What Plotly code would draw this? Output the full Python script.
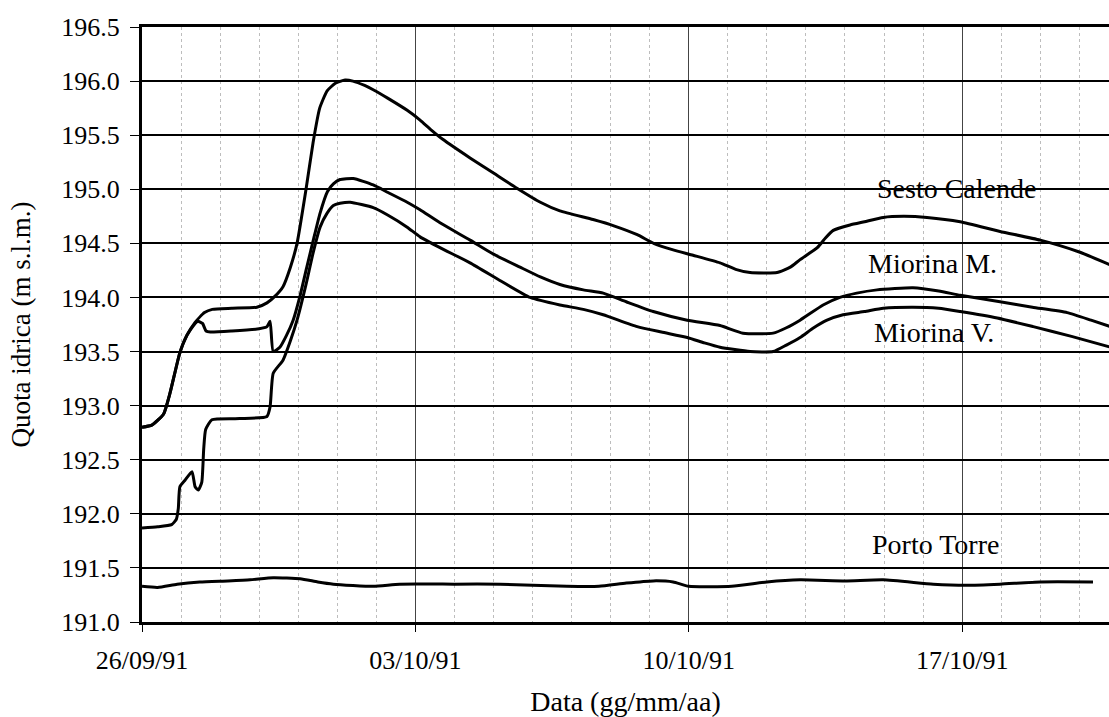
import pandas as pd
import plotly.graph_objects as go

# Water levels (m s.l.m.) versus elapsed days from 26/09/1991 00:00
START = "1991-09-26"

sesto_days = [0.0, 0.25, 0.55, 0.72, 0.97, 1.15, 1.36, 1.6, 1.8, 2.3, 2.94, 3.2, 3.4,
              3.61, 3.8, 3.97, 4.2, 4.38, 4.55, 4.74, 4.95, 5.2, 5.4, 5.7, 5.92, 6.3,
              6.79, 7.12, 7.4, 7.71, 8.4, 9.0, 9.6, 10.2, 10.7, 11.55, 12.1, 12.68,
              13.1, 13.6, 14.11, 14.8, 15.2, 15.57, 16.26, 16.6, 16.85, 17.29, 17.5,
              17.7, 18.13, 18.5, 18.98, 19.5, 20.1, 20.95, 21.97, 23.0, 24.0, 24.8]
sesto_level = [192.80, 192.82, 192.92, 193.12, 193.49, 193.65, 193.77, 193.86, 193.89,
               193.90, 193.91, 193.95, 194.01, 194.10, 194.28, 194.50, 195.00, 195.43,
               195.75, 195.91, 195.98, 196.01, 196.00, 195.96, 195.92, 195.84, 195.73,
               195.64, 195.55, 195.46, 195.29, 195.15, 195.01, 194.88, 194.80, 194.72,
               194.66, 194.58, 194.50, 194.44, 194.39, 194.32, 194.26, 194.23, 194.23,
               194.28, 194.35, 194.46, 194.55, 194.62, 194.67, 194.70, 194.74, 194.75,
               194.74, 194.70, 194.61, 194.53, 194.42, 194.30]

miorina_m_days = [0.0, 0.25, 0.55, 0.72, 0.97, 1.15, 1.36, 1.43, 1.55, 1.64, 1.75, 2.3,
                  3.0, 3.2, 3.28, 3.36, 3.53, 3.7, 3.87, 4.05, 4.22, 4.4, 4.56, 4.75,
                  4.9, 5.07, 5.41, 5.92, 6.3, 6.79, 7.12, 7.63, 8.4, 9.0, 9.68, 10.2,
                  10.7, 11.3, 11.81, 12.4, 13.09, 13.96, 14.8, 15.39, 16.16, 16.5, 16.85,
                  17.44, 17.87, 18.3, 18.82, 19.74, 20.4, 20.95, 21.97, 22.8, 23.69,
                  24.3, 24.8]
miorina_m_level = [192.80, 192.82, 192.92, 193.12, 193.49, 193.65, 193.76, 193.78, 193.76,
                   193.69, 193.68, 193.69, 193.71, 193.73, 193.78, 193.50, 193.54, 193.65,
                   193.79, 194.02, 194.28, 194.55, 194.78, 194.98, 195.05, 195.09, 195.10,
                   195.04, 194.97, 194.88, 194.81, 194.69, 194.53, 194.40, 194.28, 194.19,
                   194.12, 194.07, 194.04, 193.96, 193.87, 193.79, 193.74, 193.67, 193.67,
                   193.72, 193.79, 193.93, 194.00, 194.04, 194.07, 194.09, 194.06, 194.02,
                   193.96, 193.91, 193.86, 193.79, 193.73]

miorina_v_days = [0.0, 0.4, 0.76, 0.88, 0.93, 0.97, 1.1, 1.28, 1.36, 1.44, 1.53, 1.58,
                  1.63, 1.79, 2.5, 3.2, 3.28, 3.36, 3.61, 3.8, 3.97, 4.2, 4.38, 4.56,
                  4.74, 4.9, 5.07, 5.33, 5.92, 6.3, 6.79, 7.12, 7.63, 8.4, 9.2, 9.94,
                  10.7, 11.3, 11.81, 12.68, 13.3, 13.96, 14.4, 14.8, 15.57, 16.16, 16.5,
                  16.85, 17.2, 17.54, 17.95, 18.5, 18.98, 19.74, 20.4, 20.95, 21.9,
                  22.82, 23.8, 24.8]
miorina_v_level = [191.87, 191.88, 191.90, 191.95, 192.05, 192.25, 192.31, 192.39, 192.25,
                   192.22, 192.29, 192.60, 192.78, 192.87, 192.88, 192.90, 192.99, 193.30,
                   193.42, 193.60, 193.79, 194.12, 194.41, 194.65, 194.78, 194.85, 194.87,
                   194.88, 194.83, 194.76, 194.65, 194.56, 194.46, 194.32, 194.15, 194.00,
                   193.93, 193.89, 193.84, 193.73, 193.68, 193.63, 193.58, 193.54, 193.50,
                   193.50, 193.56, 193.63, 193.72, 193.79, 193.84, 193.87, 193.90, 193.91,
                   193.90, 193.87, 193.81, 193.73, 193.64, 193.54]

porto_days = [0.0, 0.4, 0.9, 1.48, 2.2, 2.77, 3.36, 4.05, 4.5, 4.9, 5.92, 6.6, 8.0,
              9.17, 10.0, 10.88, 11.7, 12.4, 13.09, 13.6, 14.0, 15.1, 16.0, 16.85,
              18.0, 18.98, 20.26, 21.1, 21.97, 23.0, 24.35]
porto_level = [191.33, 191.32, 191.35, 191.37, 191.38, 191.39, 191.41, 191.40, 191.37,
               191.35, 191.33, 191.35, 191.35, 191.35, 191.34, 191.33, 191.33, 191.36,
               191.38, 191.37, 191.33, 191.33, 191.37, 191.39, 191.38, 191.39, 191.35,
               191.34, 191.35, 191.37, 191.37]

# Station names and where they are written (days, level)
station_names = ["Sesto Calende", "Miorina M.", "Miorina V.", "Porto Torre"]
label_days = [20.85, 20.23, 20.28, 20.33]
label_levels = [195.01, 194.31, 193.68, 191.72]

X_END_DAYS = 24.76
Y_RANGE = [191.0, 196.5]

FONT = "Liberation Serif, Times New Roman, serif"


def to_time(days):
    return pd.Timestamp(START) + pd.to_timedelta(pd.Series(days, dtype=float), unit="D")


fig = go.Figure()
for d, v in [(sesto_days, sesto_level), (miorina_m_days, miorina_m_level),
             (miorina_v_days, miorina_v_level), (porto_days, porto_level)]:
    fig.add_trace(go.Scatter(x=to_time(d), y=v, mode="lines",
                             line=dict(color="black", width=3, shape="spline",
                                       smoothing=0.5),
                             showlegend=False, hoverinfo="skip"))

for name, d, v in zip(station_names, label_days, label_levels):
    fig.add_annotation(x=to_time([d]).iloc[0], y=v, text=name, showarrow=False,
                       xanchor="center", yanchor="middle",
                       font=dict(family=FONT, size=28, color="black"))

x_end = to_time([X_END_DAYS]).iloc[0]

fig.update_layout(
    width=1109, height=717,
    margin=dict(l=142, r=0, t=27, b=95),
    paper_bgcolor="white", plot_bgcolor="white",
    font=dict(family=FONT, size=26, color="black"),
    xaxis=dict(
        type="date", automargin=False,
        range=[pd.Timestamp(START), x_end],
        tick0=START, dtick=7 * 86400000, tickformat="%d/%m/%y",
        ticks="outside", ticklen=7, tickwidth=1, tickcolor="black",
        ticklabelstandoff=6,
        showgrid=True, gridcolor="#444444", gridwidth=1,
        minor=dict(dtick=86400000, showgrid=True, gridcolor="#bdbdbd",
                   griddash="dot", gridwidth=1, ticks=""),
        showline=True, linecolor="black", linewidth=3, mirror=True,
        zeroline=False,
        title=dict(text="Data (gg/mm/aa)", standoff=28,
                   font=dict(family=FONT, size=28)),
    ),
    yaxis=dict(
        automargin=False,
        range=Y_RANGE, dtick=0.5, tick0=191.0, tickformat=".1f",
        ticks="outside", ticklen=9, tickwidth=1, tickcolor="black",
        ticklabelstandoff=5,
        showgrid=True, gridcolor="black", gridwidth=1.5,
        showline=True, linecolor="black", linewidth=3,
        zeroline=False,
        title=dict(text="Quota idrica (m s.l.m.)", standoff=23,
                   font=dict(family=FONT, size=27)),
    ),
)

fig.write_html("out.html")
